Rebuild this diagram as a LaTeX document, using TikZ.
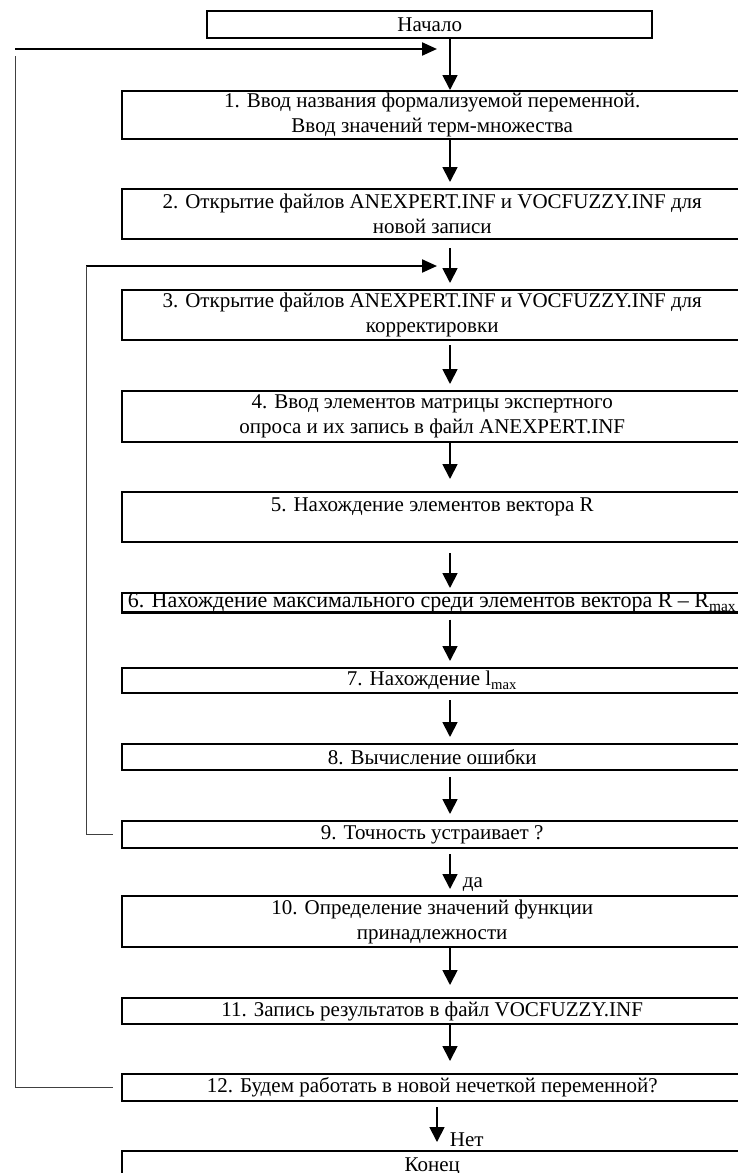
\documentclass[tikz,border=0pt]{standalone}
\usepackage{fontspec}
\setmainfont{Liberation Serif}
\usetikzlibrary{arrows.meta}

\tikzset{
  blk/.style={draw, line width=1.2pt, anchor=north west, minimum width=310pt,
    align=center, inner sep=1pt},
  flow/.style={line width=0.9pt, shorten >=3pt, -{Triangle[length=7.5pt,width=7.5pt]}},
  back/.style={line width=1.1pt, -{Triangle[length=7.5pt,width=6.5pt]}},
  thinln/.style={line width=0.5pt, black!75},
  lbl/.style={right, inner sep=0pt, xshift=6pt},
}

\begin{document}
\begin{tikzpicture}[x=0.5pt,y=-0.5pt,font=\fontsize{10.5pt}{12.5pt}\selectfont]
\useasboundingbox (0,0) rectangle (738,1173);
\coordinate (axis) at (450,0);
\coordinate (axis2) at (437,0);

% blocks
\node[blk, minimum width=222.5pt, minimum height=13.5pt] (start) at (206,10) {Начало};
\node[blk, minimum height=23.5pt] (b1) at (121,90) {1. Ввод названия формализуемой переменной.\\ Ввод значений терм-множества};
\node[blk, minimum height=25pt] (b2) at (121,188) {2. Открытие файлов ANEXPERT.INF и VOCFUZZY.INF для\\ новой записи};
\node[blk, minimum height=25pt] (b3) at (121,289) {3. Открытие файлов ANEXPERT.INF и VOCFUZZY.INF для\\ корректировки};
\node[blk, minimum height=25.5pt] (b4) at (121,390) {4. Ввод элементов матрицы экспертного\\ опроса и их запись в файл ANEXPERT.INF};
\node[blk, minimum height=25pt] (b5) at (121,491) {5. Нахождение элементов вектора R\\ \mbox{}};
\node[blk, inner ysep=0pt, minimum height=9pt, font=\fontsize{11pt}{12.5pt}\selectfont] (b6) at (121,592) {6. Нахождение максимального среди элементов вектора R~--~R\textsubscript{max}};
\node[blk, minimum height=12.5pt] (b7) at (121,667) {7. Нахождение l\textsubscript{max}};
\node[blk, minimum height=13pt] (b8) at (121,743) {8. Вычисление ошибки};
\node[blk, minimum height=13.5pt] (b9) at (121,820) {9. Точность устраивает ?};
\node[blk, minimum height=25.5pt] (b10) at (121,895) {10. Определение значений функции\\ принадлежности};
\node[blk, minimum height=13pt] (b11) at (121,997) {11. Запись результатов в файл VOCFUZZY.INF};
\node[blk, minimum height=13.5pt] (b12) at (121,1073) {12. Будем работать в новой нечеткой переменной?};
\node[blk, minimum height=15pt] (e) at (121,1150) {Конец};

% main flow
\draw[flow, shorten >=0pt] (start.south -| axis) -- (b1.north -| axis);
\draw[flow] (b1.south -| axis) -- (b2.north -| axis);
\draw[flow, shorten <=4pt] (b2.south -| axis) -- (b3.north -| axis);
\draw[flow, shorten <=2pt] (b3.south -| axis) -- (b4.north -| axis);
\draw[flow, shorten >=6pt] (b4.south -| axis) -- (b5.north -| axis);
\draw[flow, shorten <=5pt, shorten >=2pt] (b5.south -| axis) -- (b6.north -| axis);
\draw[flow, shorten <=3pt] (b6.south -| axis) -- (b7.north -| axis);
\draw[flow, shorten <=3pt] (b7.south -| axis) -- (b8.north -| axis);
\draw[flow, shorten <=3pt] (b8.south -| axis) -- (b9.north -| axis);
\draw[flow, shorten <=2.5pt] (b9.south -| axis) -- node[pos=0.77, lbl] {да} (b10.north -| axis);
\draw[flow, shorten >=6pt] (b10.south -| axis) -- (b11.north -| axis);
\draw[flow, shorten >=6pt] (b11.south -| axis) -- (b12.north -| axis);
\draw[flow, shorten <=2.5pt, shorten >=4pt] (b12.south -| axis2) -- node[pos=0.78, lbl] {Нет} (e.north -| axis2);

% outer loop (12 -> 1)
\coordinate (o1) at (15,49);
\coordinate (o2) at (15,56);
\coordinate (t1) at (437,49);
\draw[back] (o1) -- (t1);
\draw[thinln] (o2) |- ([xshift=-4pt]b12.west);

% inner loop (9 -> 3)
\coordinate (i1) at (86,266);
\coordinate (t2) at (437,266);
\draw[back] (i1) -- (t2);
\draw[thinln] (i1) |- ([xshift=-4pt]b9.west);
\end{tikzpicture}
\end{document}
